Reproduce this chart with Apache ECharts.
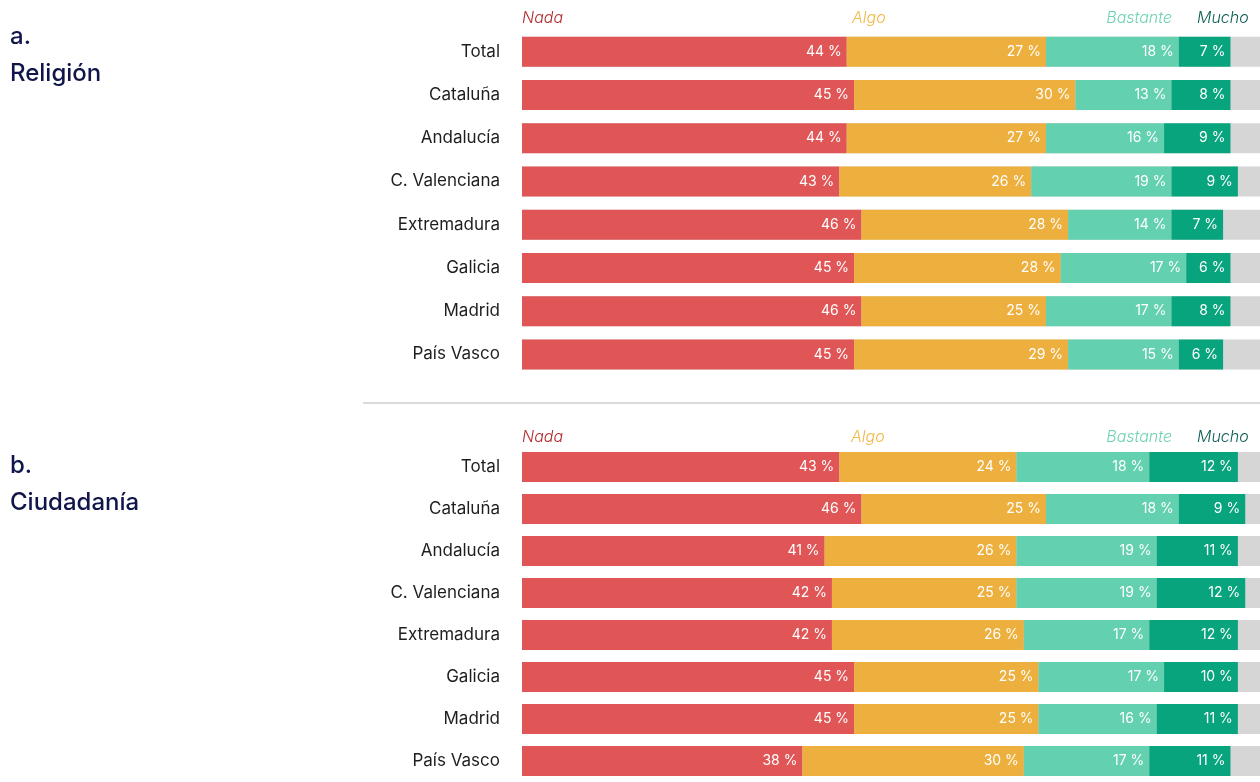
<!DOCTYPE html>
<html><head><meta charset="utf-8">
<script src="https://cdn.jsdelivr.net/npm/echarts@6/dist/echarts.min.js"></script>
<style>html,body{margin:0;padding:0;background:#fff;}#c{width:1260px;height:782px;}</style>
</head><body><div id="c"></div>
<script>
const regions = ['Total','Cataluña','Andalucía','C. Valenciana','Extremadura','Galicia','Madrid','País Vasco'];
const levels = ['Nada','Algo','Bastante','Mucho'];
// a. Religión
const relNada     = [44,45,44,43,46,45,46,45];
const relAlgo     = [27,30,27,26,28,28,25,29];
const relBastante = [18,13,16,19,14,17,17,15];
const relMucho    = [7,8,9,9,7,6,8,6];
// b. Ciudadanía
const ciuNada     = [43,46,41,42,42,45,45,38];
const ciuAlgo     = [24,25,26,25,26,25,25,30];
const ciuBastante = [18,18,19,19,17,17,16,17];
const ciuMucho    = [12,9,11,12,12,10,11,11];

const colors = ['#E05657','#EDB03E','#63D0AF','#08A47D'];
const headColors = ['#B32A2E','#F0B845','#6FD3B3','#0E5E55'];
const FONT = 'Inter, "Open Sans", "DejaVu Sans", sans-serif';

function mkSeries(arrs, gi){
  return arrs.map((d,i)=>({
    type:'bar', name: levels[i], stack:'s'+gi, xAxisIndex:gi, yAxisIndex:gi,
    data:d, barWidth:30, itemStyle:{color:colors[i]},
    showBackground: i===0, backgroundStyle:{color:'#D6D6D6'},
    label:{show:true, position:'insideRight', distance:5, color:'#fff', fontSize:14, fontFamily:FONT,
      formatter: p=>p.value+' %'},
    emphasis:{disabled:true}
  }));
}

const chart = echarts.init(document.getElementById('c'), null, {renderer:'canvas'});
const grids = [{left:522, width:747, top:30, height:346},{left:522, width:747, top:446, height:346}];
const option = {
  animation:false,
  grid: grids,
  xAxis: [0,1].map(i=>({type:'value', gridIndex:i, min:0, max:100, show:false})),
  yAxis: [0,1].map(i=>({type:'category', gridIndex:i, data:regions, inverse:true,
    axisLine:{show:false}, axisTick:{show:false}, splitLine:{show:false},
    axisLabel:{margin:22, color:'#1e1e1e', fontSize:17, fontFamily:FONT}})),
  series: [...mkSeries([relNada,relAlgo,relBastante,relMucho],0), ...mkSeries([ciuNada,ciuAlgo,ciuBastante,ciuMucho],1)],
  graphic: [
    {type:'text', left:10, top:25, style:{text:'a.', fill:'#10154A', font:'500 24px '+FONT}},
    {type:'text', left:10, top:62, style:{text:'Religión', fill:'#10154A', font:'500 24px '+FONT}},
    {type:'text', left:10, top:454, style:{text:'b.', fill:'#10154A', font:'500 24px '+FONT}},
    {type:'text', left:10, top:491, style:{text:'Ciudadanía', fill:'#10154A', font:'500 24px '+FONT}},
    {type:'line', shape:{x1:363, y1:403, x2:1260, y2:403}, style:{stroke:'#DADADA', lineWidth:2}},
    ...[[10,0],[429,1]].flatMap(([y,g])=>[
      {type:'text', x:522, y:y, style:{text:'Nada', fill:headColors[0], font:'italic 300 16px '+FONT}},
      {type:'text', x:g?851:852, y:y, style:{text:'Algo', fill:headColors[1], font:'italic 300 16px '+FONT}},
      {type:'text', x:1172, y:y, style:{text:'Bastante', fill:headColors[2], font:'italic 300 16px '+FONT, align:'right'}},
      {type:'text', x:1197, y:y, style:{text:'Mucho', fill:headColors[3], font:'italic 300 16px '+FONT}}
    ])
  ]
};
chart.setOption(option);
</script></body></html>
